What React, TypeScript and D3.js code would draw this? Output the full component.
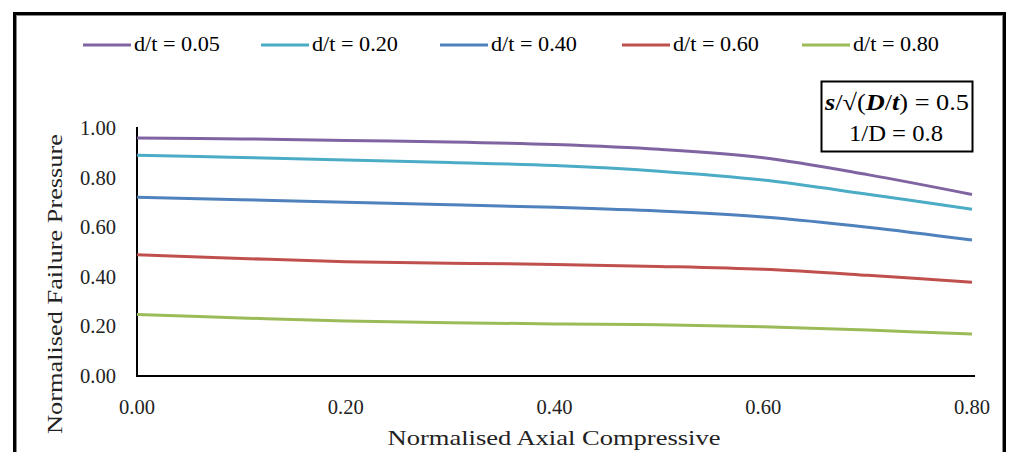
import React from "react";
import * as d3 from "d3";

const xValues = [0, 0.1, 0.2, 0.3, 0.4, 0.5, 0.6, 0.7, 0.8];
const seriesNames = ["d/t = 0.05", "d/t = 0.20", "d/t = 0.40", "d/t = 0.60", "d/t = 0.80"];
const seriesColors = ["#8064A2", "#4BACC6", "#4F81BD", "#C0504D", "#9BBB59"];
const dt005 = [0.96, 0.956, 0.95, 0.944, 0.933, 0.914, 0.88, 0.812, 0.732];
const dt020 = [0.89, 0.881, 0.871, 0.861, 0.849, 0.826, 0.79, 0.733, 0.672];
const dt040 = [0.721, 0.711, 0.701, 0.691, 0.68, 0.665, 0.641, 0.6, 0.548];
const dt060 = [0.489, 0.474, 0.461, 0.455, 0.45, 0.442, 0.43, 0.406, 0.378];
const dt080 = [0.248, 0.234, 0.222, 0.215, 0.21, 0.207, 0.199, 0.185, 0.169];
const seriesValues = [dt005, dt020, dt040, dt060, dt080];
const xTicks = [0, 0.2, 0.4, 0.6, 0.8];
const yTicks = [0, 0.2, 0.4, 0.6, 0.8, 1.0];

const legendLineX = [83, 261, 440, 622, 802];
const FONT = "'Liberation Serif', 'Times New Roman', serif";

export default function App() {
  const W = 1009;
  const H = 452;
  const x = d3.scaleLinear().domain([0, 0.8]).range([137, 972]);
  const y = d3.scaleLinear().domain([0, 1]).range([376, 128]);
  const line = d3
    .line<number>()
    .x((_, i) => x(xValues[i]))
    .y((d) => y(d))
    .curve(d3.curveCatmullRom.alpha(0.5));

  return (
    <svg
      width={W}
      height={H}
      style={{ position: "absolute", left: 0, top: 0, display: "block", background: "#fff" }}
      fontFamily={FONT}
    >
      {/* frame */}
      <rect x={14.5} y={13.5} width={990} height={480} fill="none" stroke="#000" strokeWidth={3} />
      <rect x={16.5} y={15.5} width={986} height={476} fill="none" stroke="#888" strokeWidth={1} />

      {/* legend */}
      {seriesNames.map((name, i) => (
        <g key={name}>
          <line
            x1={legendLineX[i]}
            x2={legendLineX[i] + 48}
            y1={45}
            y2={45}
            stroke={seriesColors[i]}
            strokeWidth={3}
          />
          <text x={legendLineX[i] + 51} y={51} fontSize={20} fill="#000" textLength={86} lengthAdjust="spacingAndGlyphs">
            {name}
          </text>
        </g>
      ))}

      {/* annotation box */}
      <rect x={821.5} y={81.5} width={151} height={70} fill="#fff" stroke="#000" strokeWidth={2} />
      <text x={897} y={110} fontSize={23} textAnchor="middle" fill="#000" textLength={144} lengthAdjust="spacingAndGlyphs">
        <tspan fontWeight="bold" fontStyle="italic">s</tspan>
        <tspan>/√(</tspan>
        <tspan fontWeight="bold" fontStyle="italic">D</tspan>
        <tspan>/</tspan>
        <tspan fontWeight="bold" fontStyle="italic">t</tspan>
        <tspan>) = 0.5</tspan>
      </text>
      <text x={896} y={141} fontSize={23} textAnchor="middle" fill="#000" textLength={94} lengthAdjust="spacingAndGlyphs">
        1/D = 0.8
      </text>

      {/* axes */}
      <line x1={137} x2={137} y1={127} y2={377} stroke="#000" strokeWidth={2} />
      <line x1={136} x2={975} y1={376} y2={376} stroke="#000" strokeWidth={2} />

      {yTicks.map((t) => (
        <text key={"y" + t} x={116} y={y(t) + 7} fontSize={20} textAnchor="end" fill="#222" textLength={36} lengthAdjust="spacingAndGlyphs">
          {t.toFixed(2)}
        </text>
      ))}
      {xTicks.map((t) => (
        <text key={"x" + t} x={x(t)} y={414} fontSize={20} textAnchor="middle" fill="#222" textLength={36} lengthAdjust="spacingAndGlyphs">
          {t.toFixed(2)}
        </text>
      ))}

      {/* axis titles */}
      <text
        x={554}
        y={445}
        fontSize={22}
        textAnchor="middle"
        fill="#222"
        textLength={333}
        lengthAdjust="spacingAndGlyphs"
      >
        Normalised Axial Compressive
      </text>
      <text
        transform="translate(62,284) rotate(-90)"
        fontSize={22}
        textAnchor="middle"
        fill="#222"
        textLength={300}
        lengthAdjust="spacingAndGlyphs"
      >
        Normalised Failure Pressure
      </text>

      {/* series */}
      {seriesValues.map((vals, i) => (
        <path key={seriesNames[i]} d={line(vals) || ""} fill="none" stroke={seriesColors[i]} strokeWidth={3} />
      ))}
    </svg>
  );
}
